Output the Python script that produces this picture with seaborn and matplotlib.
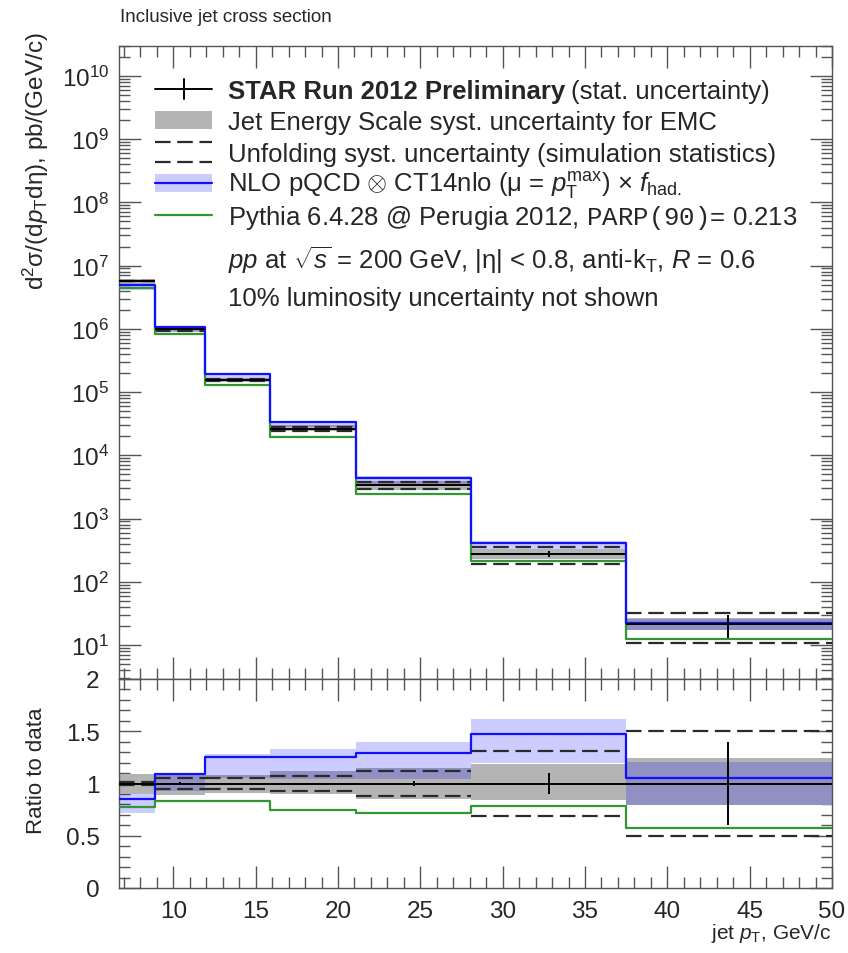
import numpy as np
import matplotlib
matplotlib.use("Agg")
import matplotlib.pyplot as plt
from matplotlib.ticker import MultipleLocator, LogLocator, FuncFormatter, NullFormatter
from matplotlib.lines import Line2D
from matplotlib.patches import Rectangle
import seaborn as sns

# ---- data ----
bin_edges = [6.7, 8.9, 11.9, 15.9, 21.1, 28.1, 37.5, 50.0]
point_x = [7.7, 10.4, 13.7, 18.2, 24.6, 32.8, 43.7]
xsec = [5.7e6, 9.9e5, 1.56e5, 2.65e4, 3.37e3, 275.0, 21.5]          # pb/(GeV/c)
stat_rel = [0.005, 0.01, 0.005, 0.005, 0.02, 0.10, 0.40]
jes_lo = [0.90, 0.89, 0.91, 0.90, 0.85, 0.84, 0.79]
jes_hi = [1.09, 1.09, 1.08, 1.12, 1.15, 1.19, 1.24]
unf_lo = [0.99, 0.95, 0.95, 0.93, 0.88, 0.69, 0.50]
unf_hi = [1.01, 1.05, 1.05, 1.07, 1.12, 1.31, 1.50]
nlo_ratio = [0.85, 1.095, 1.249, 1.25, 1.29, 1.47, 1.05]
nlo_lo = [0.715, 0.93, 1.05, 1.04, 1.04, 1.20, 0.79]
nlo_hi = [0.895, 1.10, 1.28, 1.33, 1.40, 1.615, 1.207]
pythia_ratio = [0.776, 0.828, 0.834, 0.748, 0.72, 0.786, 0.573]

sns.set_theme(style="ticks")
plt.rcParams["font.family"] = ["Liberation Sans", "DejaVu Sans"]
plt.rcParams["mathtext.fontset"] = "custom"
plt.rcParams["mathtext.rm"] = "Liberation Sans"
plt.rcParams["mathtext.it"] = "Liberation Sans:italic"
plt.rcParams["mathtext.bf"] = "Liberation Sans:bold"
plt.rcParams["mathtext.sf"] = "Liberation Sans"
plt.rcParams["mathtext.tt"] = "Liberation Mono"

W, H = 848, 954
fig = plt.figure(figsize=(W / 100, H / 100), dpi=100)

def fx(x):
    return x / W

def fy(y):
    return 1 - y / H

L, R = 119, 832
T1, B1, B2 = 46.7, 680, 889
ax = fig.add_axes([fx(L), fy(B1), (R - L) / W, (B1 - T1) / H])
axr = fig.add_axes([fx(L), fy(B2), (R - L) / W, (B2 - B1) / H])

edges = np.array(bin_edges)
data = np.array(xsec)
frame_col = "#555555"
gray = "#b4b4b4"
blue = "#1010ff"
green = "#329632"
dash = (0, (7, 3))


def step_vals(v):
    v = np.asarray(v, dtype=float)
    return np.append(v, v[-1])


def draw_panel(a, scale):
    s = np.asarray(scale, dtype=float)
    a.fill_between(edges, step_vals(s * np.array(jes_lo)), step_vals(s * np.array(jes_hi)),
                   step="post", color=gray, lw=0, zorder=1)
    a.fill_between(edges, step_vals(s * np.array(nlo_lo)), step_vals(s * np.array(nlo_hi)),
                   step="post", color="blue", alpha=0.2, lw=0, zorder=2)
    a.hlines(s * np.array(unf_hi), edges[:-1], edges[1:], colors="#2a2a2a",
             linestyles=[dash], lw=1.6, zorder=3)
    a.hlines(s * np.array(unf_lo), edges[:-1], edges[1:], colors="#2a2a2a",
             linestyles=[dash], lw=1.6, zorder=3)
    sns.lineplot(x=edges, y=step_vals(s * np.array(pythia_ratio)), ax=a, color=green,
                 lw=1.6, drawstyle="steps-post", sort=False, estimator=None, zorder=4)
    sns.lineplot(x=edges, y=step_vals(s * np.array(nlo_ratio)), ax=a, color=blue,
                 lw=1.6, drawstyle="steps-post", sort=False, estimator=None, zorder=5)
    a.hlines(s, edges[:-1], edges[1:], colors="black", lw=1.4, zorder=6)
    a.errorbar(point_x, s, yerr=s * np.array(stat_rel), fmt="none", ecolor="black",
               elinewidth=1.4, capsize=0, zorder=7)


draw_panel(ax, data)
draw_panel(axr, np.ones(len(data)))

for a in (ax, axr):
    a.set_xlim(6.7, 50)
    a.xaxis.set_major_locator(MultipleLocator(5))
    a.xaxis.set_minor_locator(MultipleLocator(1))
    a.tick_params(which="both", direction="in", top=True, right=True,
                  color=frame_col, width=1, labelsize=17.5, pad=7)
    a.tick_params(which="major", length=16)
    a.tick_params(which="minor", length=8)
    for sp in a.spines.values():
        sp.set_color(frame_col)
        sp.set_linewidth(1)
    a.set_xlabel("")
    a.set_ylabel("")

ax.set_yscale("log")
ax.set_ylim(2.9, 3e10)
ax.yaxis.set_major_locator(LogLocator(base=10, numticks=20))
ax.yaxis.set_minor_locator(LogLocator(base=10, subs=np.arange(2, 10), numticks=200))
ax.yaxis.set_minor_formatter(NullFormatter())
ax.tick_params(labelbottom=False)

axr.set_ylim(0, 2)
axr.yaxis.set_major_locator(MultipleLocator(0.5))
axr.yaxis.set_minor_locator(MultipleLocator(0.1))
axr.yaxis.set_major_formatter(FuncFormatter(lambda v, p: f"{v:g}"))
axr.tick_params(axis="y", which="major", pad=14)
axr.tick_params(axis="x", which="major", pad=9)

# ---- axis titles ----
fig.text(fx(120), fy(18), "Inclusive jet cross section", fontsize=13.5,
         ha="left", va="center")
fig.text(fx(36), fy(32),
         r"d$^{2}\mathrm{\sigma}$/(d$p_{\mathrm{T}}$d$\mathrm{\eta}$), pb/(GeV/c)",
         rotation=90, rotation_mode="anchor", ha="right", va="center", fontsize=17.5)
fig.text(fx(36), fy(771), "Ratio to data", rotation=90, rotation_mode="anchor",
         ha="center", va="center", fontsize=16)
fig.text(fx(832), fy(934), r"jet $p_{\mathrm{T}}$, GeV/c", ha="right",
         va="center", fontsize=15)

# ---- legend ----
hx0, hx1, tx = 155, 212, 228
fs = 18.5
tr = fig.transFigure

def handle_line(y, **kw):
    fig.add_artist(Line2D([fx(hx0), fx(hx1)], [fy(y), fy(y)], transform=tr, **kw))

rows = [90, 121, 153, 184, 216]
handle_line(rows[0], color="black", lw=1.4)
fig.add_artist(Line2D([fx((hx0 + hx1) / 2)] * 2, [fy(rows[0] - 10), fy(rows[0] + 10)],
                      transform=tr, color="black", lw=1.4))
fig.add_artist(Rectangle((fx(hx0), fy(rows[1] + 9)), (hx1 - hx0) / W, 18 / H,
                         transform=tr, color=gray, lw=0))
handle_line(rows[2] - 10, color="#2a2a2a", lw=1.6, linestyle=dash)
handle_line(rows[2] + 10, color="#2a2a2a", lw=1.6, linestyle=dash)
fig.add_artist(Rectangle((fx(hx0), fy(rows[3] + 9)), (hx1 - hx0) / W, 18 / H,
                         transform=tr, facecolor="blue", alpha=0.2, lw=0))
handle_line(rows[3], color=blue, lw=1.6)
handle_line(rows[4], color=green, lw=1.6)

t = fig.text(fx(tx), fy(rows[0] + 2), "STAR Run 2012 Preliminary", fontsize=fs,
             fontweight="bold", ha="left", va="center")
fig.canvas.draw()
bb = t.get_window_extent()
fig.text(bb.x1 / W + 6 / W, fy(rows[0] + 2), "(stat. uncertainty)", fontsize=fs,
         ha="left", va="center")
fig.text(fx(tx), fy(rows[1] + 2), "Jet Energy Scale syst. uncertainty for EMC",
         fontsize=fs, ha="left", va="center")
fig.text(fx(tx), fy(rows[2] + 2), "Unfolding syst. uncertainty (simulation statistics)",
         fontsize=fs, ha="left", va="center")
fig.text(fx(tx), fy(rows[3] + 2),
         r"NLO pQCD $\otimes$ CT14nlo ($\mathrm{\mu}$ = $p_{\mathrm{T}}^{\mathrm{max}}$) $\times$ $f_{\mathrm{had.}}$",
         fontsize=fs, ha="left", va="center")
fig.text(fx(tx), fy(rows[4] + 2),
         r"Pythia 6.4.28 @ Perugia 2012, $\mathtt{PARP(90)}$= 0.213",
         fontsize=fs, ha="left", va="center")
fig.text(fx(tx), fy(260),
         r"$pp$ at $\sqrt{s}$ = 200 GeV, |$\mathrm{\eta}$| < 0.8, anti-k$_{\mathrm{T}}$, $R$ = 0.6",
         fontsize=fs, ha="left", va="center")
fig.text(fx(tx), fy(299), "10% luminosity uncertainty not shown",
         fontsize=fs, ha="left", va="center")

fig.savefig("out.png", dpi=100)
